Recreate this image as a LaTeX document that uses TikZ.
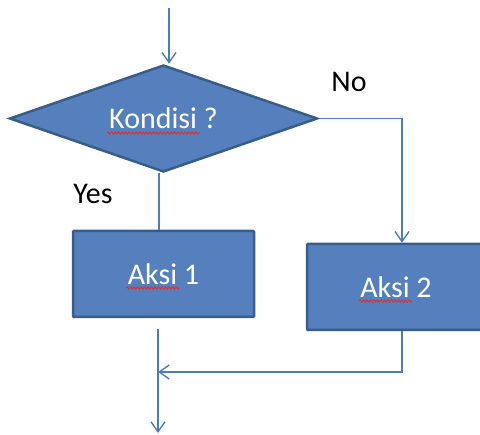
\documentclass[tikz,border=0pt]{standalone}
\usepackage{fontspec}
\setmainfont{Carlito}
\usetikzlibrary{shapes.geometric,arrows.meta,decorations.pathmorphing}
\definecolor{boxfill}{HTML}{5580BD}
\definecolor{boxline}{HTML}{385D8A}
\definecolor{conncol}{HTML}{4A7EBB}
\definecolor{squig}{HTML}{E03030}
\tikzset{
  shapebox/.style={draw=boxline, fill=boxfill, line width=2.5pt, text=white,
    font=\fontsize{30}{32}\selectfont, inner sep=0pt},
  decision/.style={shapebox, diamond, aspect=3, minimum width=308pt, minimum height=107pt},
  actionbox/.style={shapebox, rectangle, rounded corners=1pt},
  conn/.style={draw=conncol, line width=1.4pt},
  arr/.style={conn, -{Straight Barb[length=10pt,width=14pt]}},
  lbl/.style={font=\fontsize{30}{32}\selectfont, text=black, inner sep=0pt},
  squiggle/.style={draw=squig, line width=1pt, decorate,
    decoration={snake, amplitude=1.1pt, segment length=3.5pt}}
}
\begin{document}
\begin{tikzpicture}[x=1pt,y=-1pt]
\useasboundingbox (0,0) rectangle (480,435);
% shapes
\node[decision] (d) at (163.5,118.5) {Kondisi ?};
\node[actionbox, minimum width=181pt, minimum height=86pt] (b1) at (163.5,274) {Aksi 1};
\node[actionbox, minimum width=178pt, minimum height=86pt] (b2) at (396,287) {Aksi 2};
% spell-check squiggles
\draw[squiggle] (107,133) -- (200,133);
\draw[squiggle] (126,288) -- (179,288);
\draw[squiggle] (359,301) -- (412,301);
% labels
\node[lbl] (yes) at (93,193.5) {Yes};
\node[lbl] (no) at (349,82) {No};
% connectors
\coordinate (topin) at (169,8);
\draw[arr] (topin) -- (topin |- d.north);
\coordinate (L) at (159,0);
\draw[conn] (d.south -| L) -- (b1.north -| L);
\coordinate (R) at (402,0);
\draw[arr] (d.east) -| (b2.north -| R);
\coordinate (m1) at (158,329);
\coordinate (out) at (158,433);
\draw[arr] (m1) -- (out);
\coordinate (j) at (158,372);
\draw[arr] (b2.south -| R) |- (j);
\end{tikzpicture}
\end{document}
